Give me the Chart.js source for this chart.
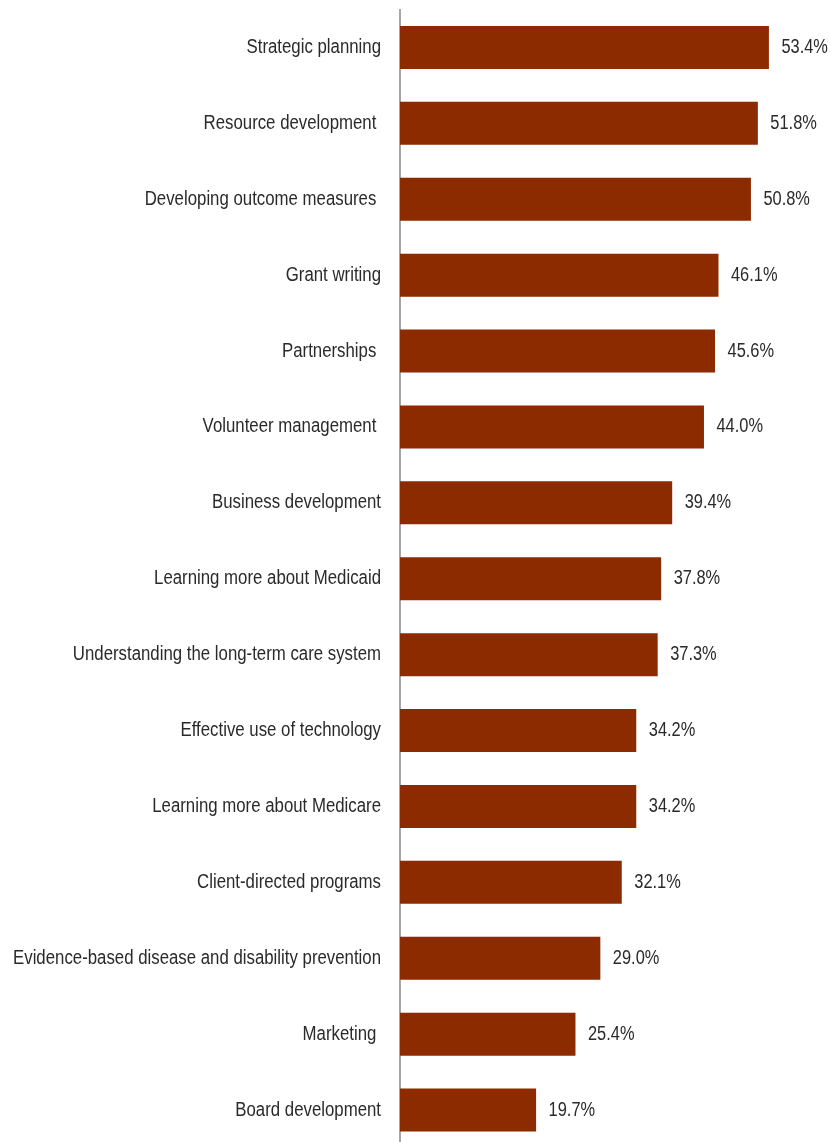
<!DOCTYPE html>
<html>
<head>
<meta charset="utf-8">
<script src="https://cdn.jsdelivr.net/npm/chart.js@4.4.1/dist/chart.umd.min.js"></script>
<style>
  html, body { margin: 0; padding: 0; background: #ffffff; overflow: hidden; }
  #wrap { position: relative; width: 830px; height: 1150px; }
</style>
</head>
<body>
<div id="wrap"><canvas id="chart"></canvas></div>
<script>
// Share of respondents naming each topic
const categories = [
  'Strategic planning',
  'Resource development ',
  'Developing outcome measures ',
  'Grant writing',
  'Partnerships ',
  'Volunteer management ',
  'Business development',
  'Learning more about Medicaid',
  'Understanding the long-term care system',
  'Effective use of technology',
  'Learning more about Medicare',
  'Client-directed programs',
  'Evidence-based disease and disability prevention',
  'Marketing ',
  'Board development'
];
const percentages = [53.4, 51.8, 50.8, 46.1, 45.6, 44.0, 39.4, 37.8, 37.3, 34.2, 34.2, 32.1, 29.0, 25.4, 19.7];

const FONT = "20px 'Liberation Sans', Arial, sans-serif";
const TEXT_COLOR = '#2a2a2a';
const LABEL_SQUEEZE = 0.84;   // horizontal squeeze for a narrow typeface look
const VALUE_SQUEEZE = 0.82;

function drawNarrowText(ctx, text, x, y, align, squeeze) {
  ctx.save();
  ctx.translate(x, y);
  ctx.scale(squeeze, 1);
  ctx.textAlign = align;
  ctx.fillText(text, 0, 0);
  ctx.restore();
}

// Category names left of the axis and percentages past each bar end
const textLayer = {
  id: 'textLayer',
  afterDraw(chart) {
    const ctx = chart.ctx;
    const yScale = chart.scales.y;
    const meta = chart.getDatasetMeta(0);
    ctx.save();
    ctx.font = FONT;
    ctx.fillStyle = TEXT_COLOR;
    ctx.textBaseline = 'middle';
    chart.data.labels.forEach((label, i) => {
      drawNarrowText(ctx, label, yScale.right - 19, yScale.getPixelForTick(i), 'right', LABEL_SQUEEZE);
    });
    meta.data.forEach((bar, i) => {
      const v = chart.data.datasets[0].data[i];
      drawNarrowText(ctx, v.toFixed(1) + '%', bar.x + 12.5, bar.y, 'left', VALUE_SQUEEZE);
    });
    ctx.restore();
  }
};

new Chart(document.getElementById('chart'), {
  type: 'bar',
  data: {
    labels: categories,
    datasets: [{
      data: percentages,
      backgroundColor: '#8C2A00',
      borderWidth: 0,
      barPercentage: 0.567,
      categoryPercentage: 1.0
    }]
  },
  options: {
    indexAxis: 'y',
    responsive: true,
    maintainAspectRatio: false,
    animation: false,
    layout: { padding: { top: 9.5, bottom: 2, left: 0, right: 15.5 } },
    plugins: {
      legend: { display: false },
      tooltip: { enabled: false }
    },
    scales: {
      x: {
        display: false,
        min: 0,
        max: 60
      },
      y: {
        afterFit(scale) {
          scale.width = 400;
          scale.paddingTop = 0;
          scale.paddingBottom = 0;
        },
        grid: { display: false, drawTicks: false },
        border: { display: true, color: '#a6a6a6', width: 2 },
        ticks: { display: false }
      }
    }
  },
  plugins: [textLayer]
});
</script>
</body>
</html>
